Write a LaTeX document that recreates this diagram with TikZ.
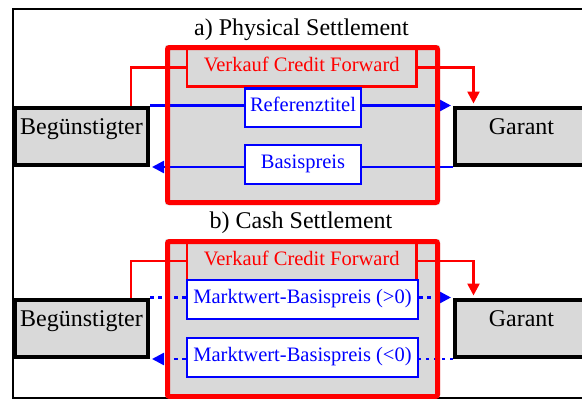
\documentclass[tikz,border=0pt]{standalone}
\usepackage{fontspec}
\setmainfont{Liberation Serif}
\usetikzlibrary{arrows.meta}

\definecolor{boxgray}{RGB}{217,217,217}

\pgfdeclarelayer{shade}
\pgfdeclarelayer{flows}
\pgfsetlayers{shade,flows,main}

\tikzset{
  party/.style={draw=black, line width=4pt, fill=boxgray, inner sep=0pt,
    minimum width=133pt, minimum height=57.5pt,
    font=\fontsize{24}{28}\selectfont, text height=17pt, text depth=20pt},
  groupframe/.style={draw=red, line width=5pt, rounded corners=2pt, inner sep=0pt,
    minimum width=270pt, minimum height=155pt},
  sale/.style={draw=red, line width=2.5pt, text=red, inner sep=0pt,
    minimum width=229.5pt,
    font=\fontsize{20.5}{24}\selectfont, text height=14pt, text depth=5pt},
  flow/.style={draw=blue, line width=2.5pt, fill=white, text=blue, inner sep=0pt,
    minimum height=39pt,
    font=\fontsize{20.5}{24}\selectfont, text height=14pt, text depth=6.4pt},
  heading/.style={anchor=base, inner sep=0pt, font=\fontsize{24}{28}\selectfont},
  tip/.style={-{Triangle[length=12pt,width=12pt]}, shorten >=2pt},
  contract/.style={draw=red, line width=2.5pt},
  payment/.style={draw=blue, line width=2.5pt},
  cashflow/.style={draw=blue, line width=2.5pt, dash pattern=on 3.5pt off 4.5pt},
}

\begin{document}
\begin{tikzpicture}[x=1pt, y=-1pt]
  \useasboundingbox (0,0) rectangle (582,399);
  \clip (0,0) rectangle (582,399);

  % outer frame (open to the right)
  \draw[line width=2pt] (600,9) -- (13,9) -- (13,397.5) -- (600,397.5);

  % ---------- a) Physical Settlement ----------
  \node[heading] (titleA) at (301.5,35) {a) Physical Settlement};
  \node[groupframe] (grpA) at (302.5,125) {};
  \node[party] (begA) at (81.5,136.25) {Begünstigter};
  \node[party] (garA) at (521.5,136.25) {Garant};
  \node[sale, minimum height=39pt] (vkA) at (301.75,67) {Verkauf Credit Forward};
  \node[flow, minimum width=116pt, minimum height=38.5pt] (refA) at (303,107.75) {Referenztitel};
  \node[flow, minimum width=116pt] (basA) at (303,164.5) {Basispreis};

  \begin{pgfonlayer}{shade}
    \fill[boxgray, rounded corners=2pt] (grpA.south west) rectangle (grpA.north east);
  \end{pgfonlayer}
  \begin{pgfonlayer}{flows}
    \draw[payment] (begA.north east) -- (refA.west |- begA.north east);
    \draw[payment, tip] (refA.east |- begA.north east) -- (garA.north west);
    \draw[payment] (garA.south west) -- (basA.east |- garA.south west);
    \draw[payment, tip] (basA.west |- begA.south east) -- (begA.south east);
  \end{pgfonlayer}

  \draw[contract] ([xshift=-19pt]begA.north east) |- ([yshift=-0.5pt]vkA.west);
  \draw[contract, tip] ([yshift=-0.5pt]vkA.east) -| ([xshift=20.5pt]garA.north west);

  % ---------- b) Cash Settlement ----------
  \node[heading] (titleB) at (301,228.3) {b) Cash Settlement};
  \node[groupframe] (grpB) at (302.5,319) {};
  \node[party] (begB) at (81.5,328.25) {Begünstigter};
  \node[party] (garB) at (521.5,328.25) {Garant};
  \node[sale, minimum height=38.5pt] (vkB) at (301.75,260.75) {Verkauf Credit Forward};
  \node[flow, minimum width=231pt] (mwPos) at (302.5,299.5) {Marktwert-Basispreis (>0)};
  \node[flow, minimum width=231pt] (mwNeg) at (302.5,357.5) {Marktwert-Basispreis (<0)};

  \begin{pgfonlayer}{shade}
    \fill[boxgray, rounded corners=2pt] (grpB.south west) rectangle (grpB.north east);
  \end{pgfonlayer}
  \begin{pgfonlayer}{flows}
    \draw[cashflow] (begB.north east) -- (mwPos.west |- begB.north east);
    \draw[cashflow, tip] (mwPos.east |- begB.north east) -- (garB.north west);
    \draw[cashflow] (garB.south west) -- (mwNeg.east |- garB.south west);
    \draw[cashflow, tip] (mwNeg.west |- begB.south east) -- (begB.south east);
  \end{pgfonlayer}

  \draw[contract] ([xshift=-19pt]begB.north east) |- (vkB.west);
  \draw[contract, tip] (vkB.east) -| ([xshift=20.5pt]garB.north west);
\end{tikzpicture}
\end{document}
